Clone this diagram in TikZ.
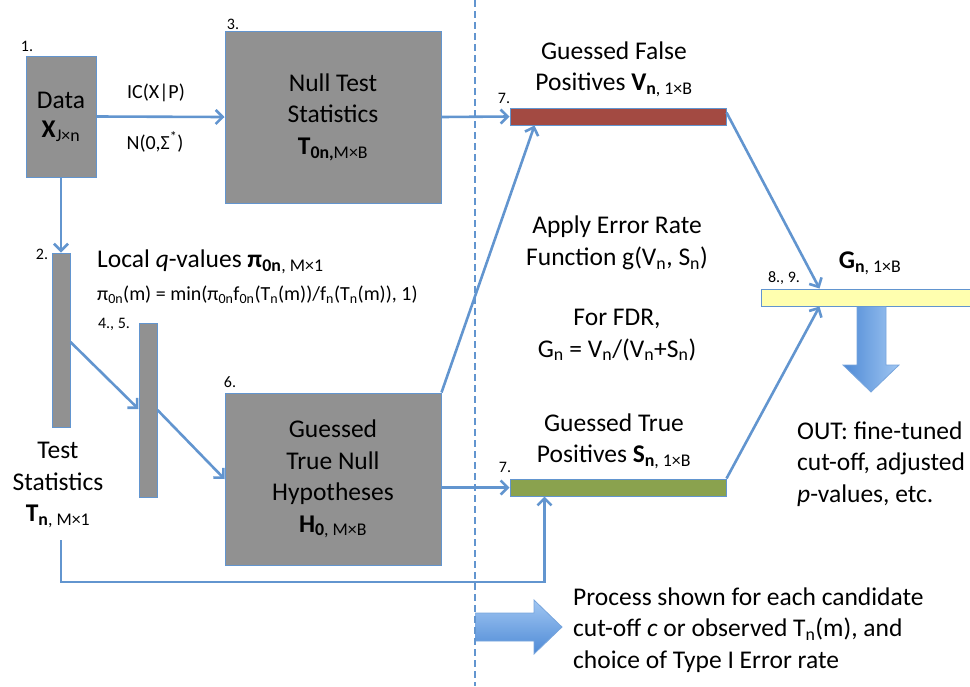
\documentclass[tikz,border=0pt]{standalone}
\usepackage{fontspec}
\setmainfont{Carlito}
\usetikzlibrary{arrows.meta}
\definecolor{lineblue}{RGB}{98,149,207}
\definecolor{boxgray}{RGB}{145,145,145}
\definecolor{vred}{RGB}{163,74,66}
\definecolor{sgreen}{RGB}{138,162,78}
\definecolor{gyellow}{RGB}{255,255,175}
\definecolor{arrdark}{RGB}{78,138,214}
\definecolor{arrlight}{RGB}{160,198,242}
\definecolor{arredge}{RGB}{120,165,220}
\newcommand\sbs[1]{\textsubscript{#1}}
\tikzset{
  box/.style={draw=lineblue, fill=boxgray, line width=1pt, inner sep=0pt, align=center,
    font=\fontsize{25.5}{31.5}\selectfont},
  barbox/.style={draw=lineblue, line width=1pt, inner sep=0pt},
  conn/.style={draw=lineblue, line width=2.6pt, -{Straight Barb[length=7pt,width=14pt,line width=2.6pt]}},
  big/.style={font=\fontsize{25.5}{31.5}\selectfont, align=center, inner sep=0pt},
  mid/.style={font=\fontsize{20}{24}\selectfont, inner sep=0pt},
  num/.style={font=\fontsize{16}{18}\selectfont, inner sep=0pt},
  fat/.style={draw=arredge, line width=0.8pt},
}
\begin{document}
\begin{tikzpicture}[x=1pt,y=-1pt]
\useasboundingbox (0,0) rectangle (970,686);

% boxes
\node[box, minimum width=70pt, minimum height=121pt] (data) at (61,116.5) {Data\\[-2pt]\textbf{X}\sbs{J×n}};
\node[box, minimum width=216pt, minimum height=172pt] (null) at (333,117) {Null Test\\Statistics\\\textbf{T}\sbs{\textbf{0n,}M×B}};
\node[box, minimum width=216pt, minimum height=172pt] (h0) at (333,479) {Guessed\\True Null\\Hypotheses\\\textbf{H}\sbs{\textbf{0}, M×B}};
\node[box, minimum width=18pt, minimum height=174pt] (bar2) at (61,340) {};
\node[box, minimum width=18pt, minimum height=174pt] (bar4) at (148,410) {};
\node[barbox, fill=vred, minimum width=216pt, minimum height=17pt] (vbar) at (618,116.5) {};
\node[barbox, fill=sgreen, minimum width=216pt, minimum height=17pt] (sbar) at (618,487.5) {};
\node[barbox, fill=gyellow, minimum width=214pt, minimum height=17pt] (gbar) at (868,297.5) {};

% step numbers
\node[num] (n1) at (27,46) {1.};
\node[num] (n3) at (233,24) {3.};
\node[num] (n2) at (42,254) {2.};
\node[num] (n45) at (114,324) {4., 5.};
\node[num] (n6) at (230,382) {6.};
\node[num] (n7a) at (504,98) {7.};
\node[num] (n7b) at (505,467) {7.};
\node[num] (n89) at (784,278) {8., 9.};

% labels
\node[mid] (ic) at (156,93) {IC(X|P)};
\node[mid] (nz) at (155,142) {N(0,Σ\textsuperscript{*})};
\node[big, anchor=west] (lq) at (97,262) {Local \textit{q}-values \textbf{π\sbs{0n}}\sbs{, M×1}};
\node[mid, anchor=west] (form) at (97,295) {π\sbs{0n}(m) = min(π\sbs{0n}f\sbs{0n}(T\sbs{n}(m))/f\sbs{n}(T\sbs{n}(m)), 1)};
\node[big] (ts) at (58,485) {Test\\Statistics\\\textbf{T}\sbs{\textbf{n}, M×1}};
\node[big] (gfp) at (614,69) {Guessed False\\Positives \textbf{V}\sbs{\textbf{n},~1×B}};
\node[big] (aer) at (617,243) {Apply Error Rate\\Function g(V\sbs{n}, S\sbs{n})};
\node[big] (fdr) at (617,335) {For FDR,\\G\sbs{n} = V\sbs{n}/(V\sbs{n}+S\sbs{n})};
\node[big] (gn) at (870,263) {\textbf{G}\sbs{\textbf{n}, 1×B}};
\node[big] (gtp) at (614,441) {Guessed True\\Positives \textbf{S}\sbs{\textbf{n}, 1×B}};
\node[big, anchor=west, align=left] (out) at (797,464) {OUT: fine-tuned\\cut-off, adjusted\\\textit{p}-values, etc.};
\node[big, anchor=west, align=left] (proc) at (573,630) {Process shown for each candidate\\cut-off \textit{c} or observed T\sbs{n}(m), and\\choice of Type I Error rate};

% fat arrows
\shade[left color=arrdark, right color=arrlight] (857,306.5) -- (886,306.5) -- (886,365) -- (899,365) -- (871,392) -- (843,365) -- (857,365) -- cycle;
\draw[fat] (857,306.5) -- (857,365) -- (843,365) -- (871,392) -- (899,365) -- (886,365) -- (886,306.5);
\shade[top color=arrlight, bottom color=arrdark] (475,613) -- (534,613) -- (534,600) -- (562,627) -- (534,654) -- (534,641) -- (475,641) -- cycle;
\draw[fat] (475,613) -- (534,613) -- (534,600) -- (562,627) -- (534,654) -- (534,641) -- (475,641);

% connectors
\draw[conn] (data.east) -- (null.west);
\draw[conn] (null.east) -- (vbar.west);
\draw[conn] (data.south) -- (bar2.north);
\draw[conn] ([yshift=-2pt]bar2.east) -- ([yshift=1pt]bar4.west);
\draw[conn] (bar4.east) -- (h0.west);
\draw[conn] (h0.north east) -- ([xshift=25pt]vbar.south west);
\draw[conn] (h0.east |- sbar.west) -- (sbar.west);
\draw[conn] ([yshift=4pt]vbar.east) -- ([xshift=59pt]gbar.north west);
\draw[conn] (sbar.north east) -- ([xshift=59pt]gbar.south west);
\coordinate (tsbot) at (61,540);
\coordinate (tscorner) at (61,582);
\draw[conn] (tsbot) -- (tscorner) -| ([xshift=35pt]sbar.south west);

% dashed divider
\draw[draw=lineblue, line width=2pt, dash pattern=on 7pt off 4pt] (475,0) -- (475,686);
\end{tikzpicture}
\end{document}
